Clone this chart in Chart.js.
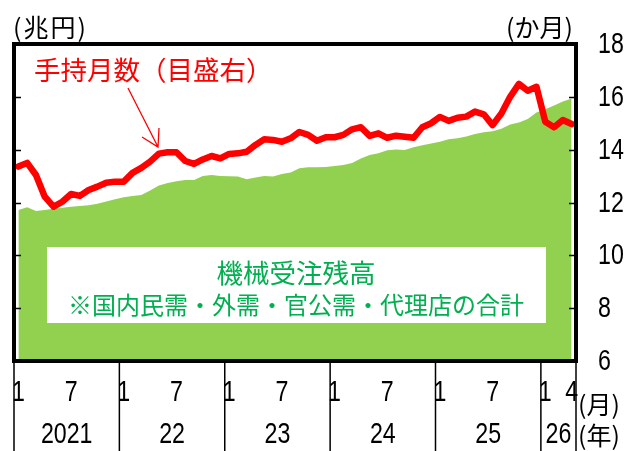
<!DOCTYPE html>
<html><head><meta charset="utf-8">
<script src="https://cdn.jsdelivr.net/npm/chart.js@4.4.1/dist/chart.umd.min.js"></script>
<style>html,body{margin:0;padding:0;background:#fff}#wrap{width:627px;height:451px;position:relative}</style>
</head><body><div id="wrap"><canvas id="c" width="627" height="451"></canvas></div>
<script>
const categories = [
 "2021/1","2021/2","2021/3","2021/4","2021/5","2021/6","2021/7","2021/8","2021/9","2021/10","2021/11","2021/12",
 "2022/1","2022/2","2022/3","2022/4","2022/5","2022/6","2022/7","2022/8","2022/9","2022/10","2022/11","2022/12",
 "2023/1","2023/2","2023/3","2023/4","2023/5","2023/6","2023/7","2023/8","2023/9","2023/10","2023/11","2023/12",
 "2024/1","2024/2","2024/3","2024/4","2024/5","2024/6","2024/7","2024/8","2024/9","2024/10","2024/11","2024/12",
 "2025/1","2025/2","2025/3","2025/4","2025/5","2025/6","2025/7","2025/8","2025/9","2025/10","2025/11","2025/12",
 "2026/1","2026/2","2026/3","2026/4"];
const backlog = [
 11.72,11.82,11.68,11.72,11.76,11.80,11.84,11.87,11.90,11.95,12.04,12.12,
 12.20,12.25,12.28,12.45,12.64,12.74,12.80,12.85,12.85,13.00,13.04,13.00,
 12.99,12.98,12.88,12.95,13.00,12.98,13.08,13.14,13.30,13.33,13.33,13.34,
 13.38,13.42,13.50,13.67,13.80,13.86,13.98,14.01,13.99,14.09,14.17,14.23,
 14.30,14.39,14.43,14.50,14.59,14.66,14.70,14.79,14.95,15.03,15.16,15.41,
 15.53,15.67,15.82,15.94];
const monthsOnHand = [
 13.36,13.50,13.04,12.22,11.84,12.03,12.32,12.25,12.47,12.60,12.75,12.79,
 12.79,13.12,13.31,13.55,13.85,13.90,13.90,13.57,13.46,13.63,13.76,13.67,
 13.84,13.86,13.92,14.18,14.39,14.37,14.30,14.43,14.67,14.56,14.34,14.47,
 14.47,14.56,14.77,14.85,14.52,14.62,14.45,14.53,14.49,14.45,14.85,15.00,
 15.24,15.09,15.21,15.25,15.44,15.34,14.93,15.37,16.00,16.49,16.23,16.38,
 15.06,14.85,15.12,14.97];
const yearLabels = ["2021","22","23","24","25","26"];
const shownMonths = [1, 7];

const NUM = '"Liberation Sans","Arial",sans-serif';
const JP = '"Noto Sans CJK JP","Noto Sans",sans-serif';

function monthLabel(i) {
  const m = parseInt(categories[i].split('/')[1], 10);
  if (shownMonths.includes(m) || i === categories.length - 1) return String(m);
  return '';
}

function drawNarrow(ctx, text, x, y, align) {
  ctx.save();
  ctx.translate(x, y);
  ctx.scale(0.8, 1);
  ctx.textAlign = align;
  ctx.textBaseline = 'middle';
  ctx.fillText(text, 0, 0);
  ctx.restore();
}

const decor = {
  id: 'decor',
  afterDatasetsDraw(chart) {
    const ctx = chart.ctx, a = chart.chartArea;
    const yl = chart.scales.y, yr = chart.scales.y1;
    ctx.save();
    // white text box
    ctx.fillStyle = '#fff';
    ctx.fillRect(47, 247, 499, 76);
    ctx.fillStyle = '#00B050';
    ctx.textAlign = 'center'; ctx.textBaseline = 'middle';
    ctx.font = '26.5px ' + JP;
    ctx.fillText('機械受注残高', 296, 273);
    ctx.font = '24px ' + JP;
    ctx.fillText('※国内民需・外需・官公需・代理店の合計', 296, 305);
    // red label
    ctx.fillStyle = '#FF0000';
    ctx.textAlign = 'left';
    ctx.font = '26.5px ' + JP;
    ctx.fillText('手持月数（目盛右）', 34, 70);
    // arrow
    ctx.strokeStyle = '#FF0000'; ctx.lineWidth = 1.3;
    ctx.beginPath(); ctx.moveTo(128, 88); ctx.lineTo(158, 147);
    ctx.moveTo(142, 137); ctx.lineTo(158, 147); ctx.lineTo(159, 128);
    ctx.stroke();
    // inner tick marks
    ctx.strokeStyle = '#000'; ctx.lineWidth = 1.5;
    ctx.beginPath();
    yr.ticks.forEach(t => {
      if (t.value <= yr.min || t.value >= yr.max) return;
      const py = Math.round(yr.getPixelForValue(t.value)) + 0.5;
      ctx.moveTo(a.right - 7, py); ctx.lineTo(a.right, py);
      const ply = Math.round(yl.getPixelForValue(t.value)) + 0.5;
      ctx.moveTo(a.left, ply); ctx.lineTo(a.left + 7, ply);
    });
    ctx.stroke();
    // frame
    ctx.lineWidth = 4;
    ctx.strokeRect(a.left, a.top, a.right - a.left, a.bottom - a.top);
    ctx.restore();
  },
  afterDraw(chart) {
    const ctx = chart.ctx, a = chart.chartArea, xs = chart.scales.x, yr = chart.scales.y1;
    const step = xs.getPixelForValue(1) - xs.getPixelForValue(0);
    const n = categories.length;
    ctx.save();
    ctx.strokeStyle = '#000'; ctx.lineWidth = 1.5;
    ctx.beginPath();
    const edges = [];
    for (let i = 0; i < n; i++) {
      if (categories[i].endsWith('/1')) edges.push(xs.getPixelForValue(i) - step / 2);
    }
    edges.push(xs.getPixelForValue(n - 1) + step / 2);
    edges.forEach(x => { ctx.moveTo(x, a.bottom); ctx.lineTo(x, 451); });
    ctx.stroke();
    ctx.fillStyle = '#000';
    ctx.font = '29px ' + NUM;
    // right axis tick labels
    yr.ticks.forEach(t => {
      drawNarrow(ctx, String(t.value), a.right + 22, yr.getPixelForValue(t.value) + 1, 'left');
    });
    // month labels
    xs.ticks.forEach((t, i) => {
      const lab = monthLabel(i);
      if (lab) drawNarrow(ctx, lab, xs.getPixelForTick(i), 393, 'center');
    });
    // year labels
    yearLabels.forEach((lab, k) => {
      drawNarrow(ctx, lab, (edges[k] + edges[k + 1]) / 2, 435, 'center');
    });
    ctx.textBaseline = 'middle';
    ctx.font = '25px ' + JP;
    ctx.textAlign = 'left';
    ctx.letterSpacing = '2px';
    ctx.fillText('(兆円)', 13, 27);
    ctx.letterSpacing = '0px';
    ctx.textAlign = 'right';
    ctx.fillText('(か月)', 573, 27);
    ctx.textAlign = 'left';
    ctx.fillText('(月)', 578, 404);
    ctx.fillText('(年)', 578, 435);
    ctx.restore();
  }
};

new Chart(document.getElementById('c'), {
  data: {
    labels: categories,
    datasets: [
      { type: 'line', label: '手持月数（目盛右）', data: monthsOnHand, yAxisID: 'y1',
        borderColor: '#FF0000', borderWidth: 6.5, pointRadius: 0, tension: 0, fill: false,
        borderJoinStyle: 'round', borderCapStyle: 'round', order: 1 },
      { type: 'line', label: '機械受注残高', data: backlog, yAxisID: 'y',
        borderColor: 'rgba(0,0,0,0)', borderWidth: 0, backgroundColor: '#92D050',
        pointRadius: 0, tension: 0, fill: 'start', order: 2 }
    ]
  },
  options: {
    responsive: false, animation: false, devicePixelRatio: 1,
    layout: { padding: { top: 44, left: 0, right: 0, bottom: 0 } },
    plugins: { legend: { display: false }, tooltip: { enabled: false } },
    scales: {
      x: {
        type: 'category', offset: true,
        grid: { display: false, drawTicks: false }, border: { display: false },
        ticks: { display: false, autoSkip: false },
        afterFit(s) { s.height = 90; }
      },
      y: {
        position: 'left', min: 6, max: 18,
        ticks: { display: false, stepSize: 2 },
        grid: { display: false, drawTicks: false }, border: { display: false },
        afterFit(s) { s.width = 14; }
      },
      y1: {
        position: 'right', min: 6, max: 18,
        ticks: { display: false, stepSize: 2 },
        grid: { display: false, drawTicks: false }, border: { display: false },
        afterFit(s) { s.width = 51; }
      }
    }
  },
  plugins: [decor]
});
</script>
</body></html>
